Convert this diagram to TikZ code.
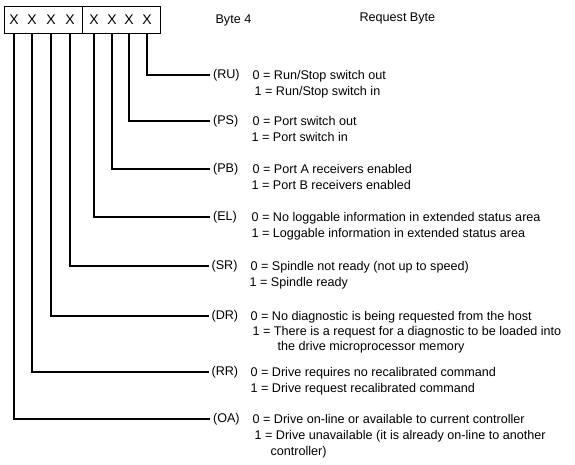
\documentclass[tikz,border=0pt]{standalone}
\usepackage{fontspec}
\setmainfont{Liberation Sans}
\begin{document}
\begin{tikzpicture}[x=1pt,y=-1pt,line width=1.15pt,
  txt/.style={font=\fontsize{12.6}{15}\selectfont, inner sep=0pt, anchor=base west},
  lbl/.style={font=\fontsize{12.6}{15}\selectfont, inner sep=2.5pt, anchor=west},
  bit/.style={font=\fontsize{14}{15}\selectfont, inner sep=0pt},
  half/.style={draw, minimum width=78pt, minimum height=27pt, anchor=north west, inner sep=0pt}]
\useasboundingbox (0,0) rectangle (575,464);
% register box
\node[half] (lb) at (4,6) {};
\node[half] (rb) at (82,6) {};
\node[bit] (xoa) at (14,19.5) {X};
\node[bit] (xrr) at (32,19.5) {X};
\node[bit] (xdr) at (51,19.5) {X};
\node[bit] (xsr) at (70,19.5) {X};
\node[bit] (xel) at (94,19.5) {X};
\node[bit] (xpb) at (112,19.5) {X};
\node[bit] (xps) at (129,19.5) {X};
\node[bit] (xru) at (147,19.5) {X};
% titles
\node[txt, anchor=west] (byte) at (215,20) {Byte 4};
\node[txt, anchor=west] (req) at (359,18) {Request Byte};
% field labels
\node[lbl] (ru) at (210,75) {(RU)};
\node[lbl] (ps) at (210,121) {(PS)};
\node[lbl] (pb) at (210,169) {(PB)};
\node[lbl] (el) at (210,217) {(EL)};
\node[lbl] (sr) at (208.5,266) {(SR)};
\node[lbl] (dr) at (208.5,316) {(DR)};
\node[lbl] (rr) at (208.5,372) {(RR)};
\node[lbl] (oa) at (210,419) {(OA)};
% connectors
\draw (xru |- rb.south) |- (ru.west);
\draw (xps |- rb.south) |- (ps.west);
\draw (xpb |- rb.south) |- (pb.west);
\draw (xel |- rb.south) |- (el.west);
\draw (xsr |- lb.south) |- (sr.west);
\draw (xdr |- lb.south) |- (dr.west);
\draw (xrr |- lb.south) |- (rr.west);
\draw (xoa |- lb.south) |- (oa.west);
% descriptions
\node[txt] (ru0) at (252,79.5) {0 = Run/Stop switch out};
\node[txt] (ru1) at (254,95.5) {1 = Run/Stop switch in};
\node[txt] (ps0) at (252,125.5) {0 = Port switch out};
\node[txt] (ps1) at (251,141.5) {1 = Port switch in};
\node[txt] (pb0) at (252,173.5) {0 = Port A receivers enabled};
\node[txt] (pb1) at (251,189.5) {1 = Port B receivers enabled};
\node[txt] (el0) at (251,221.5) {0 = No loggable information in extended status area};
\node[txt] (el1) at (251,237.5) {1 = Loggable information in extended status area};
\node[txt] (sr0) at (250,270.5) {0 = Spindle not ready (not up to speed)};
\node[txt] (sr1) at (249,286.5) {1 = Spindle ready};
\node[txt] (dr0) at (250,320.5) {0 = No diagnostic is being requested from the host};
\node[txt] (dr1) at (252,335.5) {1 = There is a request for a diagnostic to be loaded into};
\node[txt] (dr2) at (277,350.5) {the drive microprocessor memory};
\node[txt] (rr0) at (250,376.5) {0 = Drive requires no recalibrated command};
\node[txt] (rr1) at (250,392.5) {1 = Drive request recalibrated command};
\node[txt] (oa0) at (252,423.5) {0 = Drive on-line or available to current controller};
\node[txt] (oa1) at (254,439.5) {1 = Drive unavailable (it is already on-line to another};
\node[txt] (oa2) at (270,455.5) {controller)};
\end{tikzpicture}
\end{document}
